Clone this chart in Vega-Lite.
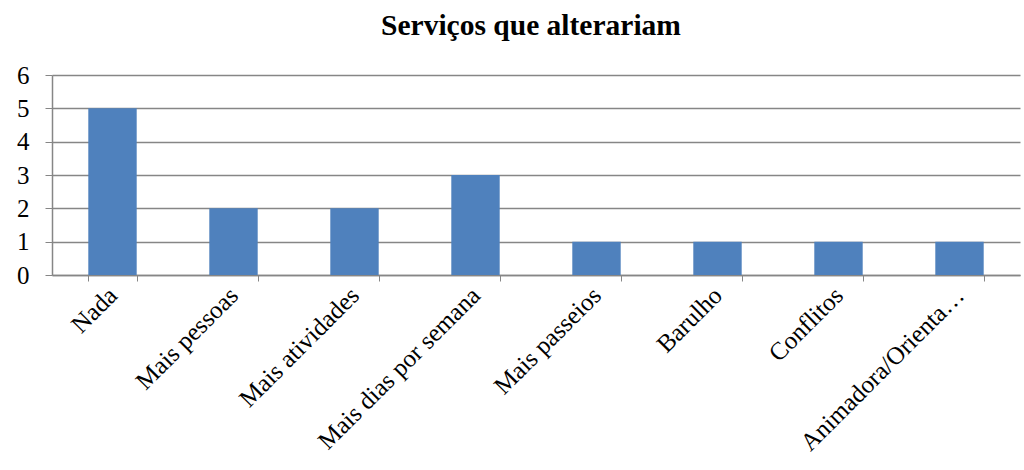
{
  "$schema": "https://vega.github.io/schema/vega-lite/v6.json",
  "width": 968,
  "height": 200,
  "autosize": {"type": "none"},
  "padding": {"left": 52, "top": 75, "right": 4, "bottom": 195},
  "background": "white",
  "title": {
    "text": "Serviços que alterariam",
    "font": "Liberation Serif",
    "fontSize": 29.5,
    "fontWeight": "bold",
    "color": "black",
    "anchor": "middle",
    "dx": -5,
    "offset": 22
  },
  "data": {
    "values": [
      {"servico": "Nada", "n": 5},
      {"servico": "Mais pessoas", "n": 2},
      {"servico": "Mais atividades", "n": 2},
      {"servico": "Mais dias por semana", "n": 3},
      {"servico": "Mais passeios", "n": 1},
      {"servico": "Barulho", "n": 1},
      {"servico": "Conflitos", "n": 1},
      {"servico": "Animadora/Orienta…", "n": 1}
    ]
  },
  "mark": {"type": "bar", "color": "#4F81BD"},
  "encoding": {
    "x": {
      "field": "servico",
      "type": "nominal",
      "sort": null,
      "scale": {"paddingInner": 0.6, "paddingOuter": 0.3},
      "axis": {
        "title": null,
        "labelAngle": -45,
        "labelAlign": "right",
        "labelBaseline": "middle",
        "labelFontSize": 25,
        "labelPadding": 10,
        "tickBand": "extent",
        "tickSize": 6,
        "labelLimit": 400
      }
    },
    "y": {
      "field": "n",
      "type": "quantitative",
      "scale": {"domain": [0, 6], "nice": false},
      "axis": {
        "title": null,
        "values": [0, 1, 2, 3, 4, 5, 6],
        "format": "d",
        "labelFontSize": 25,
        "labelPadding": 16,
        "tickSize": 7,
        "gridColor": "#868686",
        "gridWidth": 1.5
      }
    }
  },
  "config": {
    "view": {"stroke": null},
    "font": "Liberation Serif",
    "axis": {
      "labelFont": "Liberation Serif",
      "labelColor": "black",
      "tickColor": "#868686",
      "domainColor": "#868686",
      "domainWidth": 1.5
    }
  }
}
